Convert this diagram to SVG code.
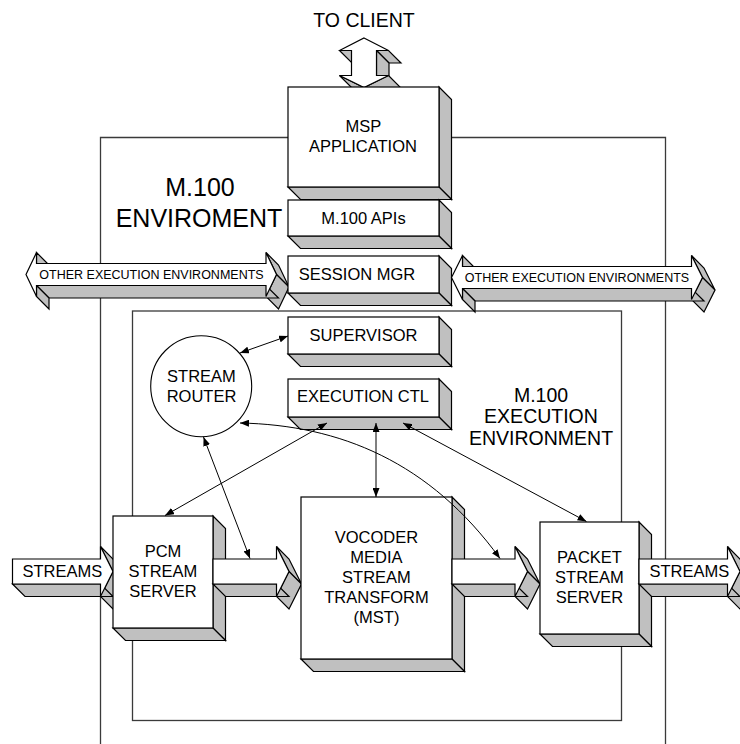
<svg xmlns="http://www.w3.org/2000/svg" width="740" height="744" viewBox="0 0 740 744">
<style>
  .frame{fill:none;stroke:#3a3a3a;stroke-width:1.3}
  .face{fill:#fff;stroke:#000;stroke-width:1.2;stroke-linejoin:miter}
  .side{fill:#c0c0c0;stroke:#000;stroke-width:1.2;stroke-linejoin:miter}
  .t{font-family:"Liberation Sans",Arial,sans-serif;font-size:16.5px;fill:#000;text-anchor:middle}
  .small{font-size:12.5px}
  .big{font-size:25px}
  .mid{font-size:19.5px}
  .conn{fill:none;stroke:#000;stroke-width:1;marker-start:url(#ah);marker-end:url(#ah)}
</style>
<defs>
  <marker id="ah" viewBox="0 0 9 7" refX="9" refY="3.5" markerWidth="9" markerHeight="7" markerUnits="userSpaceOnUse" orient="auto-start-reverse">
    <path d="M0,0 L9,3.5 L0,7 z" fill="#000"/>
  </marker>
</defs>

<g id="frames">
  <path class="frame" d="M100.5,750 V137.5 H665.5 V750"/>
  <rect class="frame" x="132.5" y="311" width="489" height="409.5"/>
</g>

<g id="label-m100-env">
  <text class="t big" x="200" y="196">M.100</text>
  <text class="t big" x="199" y="226.5">ENVIROMENT</text>
</g>
<g id="label-m100-exec-env">
  <text class="t mid" x="541" y="401.5">M.100</text>
  <text class="t mid" x="541" y="423.3">EXECUTION</text>
  <text class="t mid" x="541" y="445">ENVIRONMENT</text>
</g>

<g id="to-client">
  <text class="t" style="font-size:19.5px" x="364" y="26.5">TO CLIENT</text>
  <polygon class="side" points="388.5,50.5 376.5,50.5 389,63 401,63"/>
  <polygon class="side" points="376.5,50.5 376.5,75.5 389,88 389,63"/>
  <polygon class="side" points="388.5,75.5 364,87.5 376.5,100 401,88"/>
  <polygon class="side" points="364,87.5 339.5,75.5 352,88 376.5,100"/>
  <polygon class="side" points="351.5,50.5 339.5,50.5 352,63 364,63"/>
  <polygon class="face" points="364,38 388.5,50.5 376.5,50.5 376.5,75.5 388.5,75.5 364,87.5 339.5,75.5 351.5,75.5 351.5,50.5 339.5,50.5"/>
</g>

<g id="msp-application">
  <polygon class="side" points="439,87 451.5,99.5 451.5,199.5 439,187"/>
  <polygon class="side" points="288,187 439,187 451.5,199.5 300.5,199.5"/>
  <rect class="face" x="288" y="87" width="151" height="100"/>
  <text class="t" x="363.5" y="131.7">MSP</text>
  <text class="t" x="363" y="151.7">APPLICATION</text>
</g>

<g id="m100-apis">
  <polygon class="side" points="439,200 451.5,212.5 451.5,248.5 439,236"/>
  <polygon class="side" points="288,236 439,236 451.5,248.5 300.5,248.5"/>
  <rect class="face" x="288" y="200" width="151" height="36"/>
  <text class="t" x="363.5" y="223.5">M.100 APIs</text>
</g>

<g id="other-env-left">
  <polygon class="side" points="36.5,252.5 36.5,263.5 49,276 49,265"/>
  <polygon class="side" points="266,252.5 276.5,274.5 289,287 278.5,265"/>
  <polygon class="side" points="276.5,274.5 266,296.5 278.5,309 289,287"/>
  <polygon class="side" points="266,285.5 36.5,285.5 49,298 278.5,298"/>
  <polygon class="side" points="36.5,285.5 36.5,296.5 49,309 49,298"/>
  <polygon class="face" points="26,274.5 36.5,252.5 36.5,263.5 266,263.5 266,252.5 276.5,274.5 266,296.5 266,285.5 36.5,285.5 36.5,296.5"/>
  <text class="t small" x="151.5" y="278.8">OTHER EXECUTION ENVIRONMENTS</text>
</g>

<g id="session-mgr">
  <polygon class="side" points="439,256 451.5,268.5 451.5,305.5 439,293"/>
  <polygon class="side" points="288,293 439,293 451.5,305.5 300.5,305.5"/>
  <rect class="face" x="288" y="256" width="151" height="37"/>
  <text class="t" x="357" y="279.5">SESSION MGR</text>
</g>

<g id="other-env-right">
  <polygon class="side" points="462.5,255.5 462.5,266.5 475,279 475,268"/>
  <polygon class="side" points="691.5,255.5 702.5,277.5 715,290 704,268"/>
  <polygon class="side" points="702.5,277.5 691.5,299.5 704,312 715,290"/>
  <polygon class="side" points="691.5,288.5 462.5,288.5 475,301 704,301"/>
  <polygon class="side" points="462.5,288.5 462.5,299.5 475,312 475,301"/>
  <polygon class="face" points="451.5,277.5 462.5,255.5 462.5,266.5 691.5,266.5 691.5,255.5 702.5,277.5 691.5,299.5 691.5,288.5 462.5,288.5 462.5,299.5"/>
  <text class="t small" x="577" y="281.8">OTHER EXECUTION ENVIRONMENTS</text>
</g>

<g id="supervisor">
  <polygon class="side" points="439,317 451.5,329.5 451.5,366.5 439,354"/>
  <polygon class="side" points="288,354 439,354 451.5,366.5 300.5,366.5"/>
  <rect class="face" x="288" y="317" width="151" height="37"/>
  <text class="t" x="363.5" y="340.7">SUPERVISOR</text>
</g>

<g id="execution-ctl">
  <polygon class="side" points="439,379 451.5,391.5 451.5,429.5 439,417"/>
  <polygon class="side" points="288,417 439,417 451.5,429.5 300.5,429.5"/>
  <rect class="face" x="288" y="379" width="151" height="38"/>
  <text class="t" x="363" y="401.7">EXECUTION CTL</text>
</g>

<g id="stream-router">
  <circle cx="201.2" cy="386.2" r="50.5" fill="#fff" stroke="#000" stroke-width="1.1"/>
  <text class="t" x="201.5" y="382.3">STREAM</text>
  <text class="t" x="201.5" y="401.7">ROUTER</text>
</g>

<g id="streams-in">
  <polygon class="side" points="100.5,546.5 113,571.5 125.5,584 113,559"/>
  <polygon class="side" points="113,571.5 100.5,596.5 113,609 125.5,584"/>
  <polygon class="side" points="100.5,584 12.5,584 25,596.5 113,596.5"/>
  <polygon class="face" points="12.5,559 100.5,559 100.5,546.5 113,571.5 100.5,596.5 100.5,584 12.5,584"/>
  <text class="t" style="text-anchor:start" x="22.5" y="577">STREAMS</text>
</g>

<g id="pcm-stream-server">
  <polygon class="side" points="213,516 225.5,528.5 225.5,640.5 213,628"/>
  <polygon class="side" points="113,628 213,628 225.5,640.5 125.5,640.5"/>
  <rect class="face" x="113" y="516" width="100" height="112"/>
  <text class="t" x="163" y="557.3">PCM</text>
  <text class="t" x="163" y="577.3">STREAM</text>
  <text class="t" x="163" y="596.7">SERVER</text>
</g>

<g id="flow-pcm-mst">
  <polygon class="side" points="276.5,546.5 289,571.5 301.5,584 289,559"/>
  <polygon class="side" points="289,571.5 276.5,596.5 289,609 301.5,584"/>
  <polygon class="side" points="276.5,584 213,584 225.5,596.5 289,596.5"/>
  <polygon class="face" points="213,559 276.5,559 276.5,546.5 289,571.5 276.5,596.5 276.5,584 213,584"/>
</g>

<g id="vocoder-mst">
  <polygon class="side" points="452,497 464.5,509.5 464.5,671.5 452,659"/>
  <polygon class="side" points="301,659 452,659 464.5,671.5 313.5,671.5"/>
  <rect class="face" x="301" y="497" width="151" height="162"/>
  <text class="t" x="376.5" y="542.7">VOCODER</text>
  <text class="t" x="376.5" y="562.7">MEDIA</text>
  <text class="t" x="376.5" y="582.7">STREAM</text>
  <text class="t" x="376.5" y="602.7">TRANSFORM</text>
  <text class="t" x="376.5" y="622.7">(MST)</text>
</g>

<g id="flow-mst-packet">
  <polygon class="side" points="515,546.5 527.5,571.5 540,584 527.5,559"/>
  <polygon class="side" points="527.5,571.5 515,596.5 527.5,609 540,584"/>
  <polygon class="side" points="515,584 452,584 464.5,596.5 527.5,596.5"/>
  <polygon class="face" points="452,559 515,559 515,546.5 527.5,571.5 515,596.5 515,584 452,584"/>
</g>

<g id="packet-stream-server">
  <polygon class="side" points="639,522 651.5,534.5 651.5,646.5 639,634"/>
  <polygon class="side" points="540,634 639,634 651.5,646.5 552.5,646.5"/>
  <rect class="face" x="540" y="522" width="99" height="112"/>
  <text class="t" x="589.5" y="563.3">PACKET</text>
  <text class="t" x="589.5" y="583.3">STREAM</text>
  <text class="t" x="589.5" y="602.7">SERVER</text>
</g>

<g id="streams-out">
  <polygon class="side" points="727.5,546.5 740,571.5 752.5,584 740,559"/>
  <polygon class="side" points="740,571.5 727.5,596.5 740,609 752.5,584"/>
  <polygon class="side" points="727.5,584 639,584 651.5,596.5 740,596.5"/>
  <polygon class="face" points="639,559 727.5,559 727.5,546.5 740,571.5 727.5,596.5 727.5,584 639,584"/>
  <text class="t" style="text-anchor:start" x="649.5" y="577">STREAMS</text>
</g>

<g id="connectors">
  <path class="conn" d="M240,353 L288,336"/>
  <path class="conn" d="M327,423 L165,515.5"/>
  <path class="conn" d="M376,423 L376,497"/>
  <path class="conn" d="M403,423 L586.5,521.5"/>
  <path class="conn" d="M240,423 C340,425 430,462 500,558.5"/>
  <path class="conn" d="M203.5,437 L250,558.5"/>
</g>
</svg>
